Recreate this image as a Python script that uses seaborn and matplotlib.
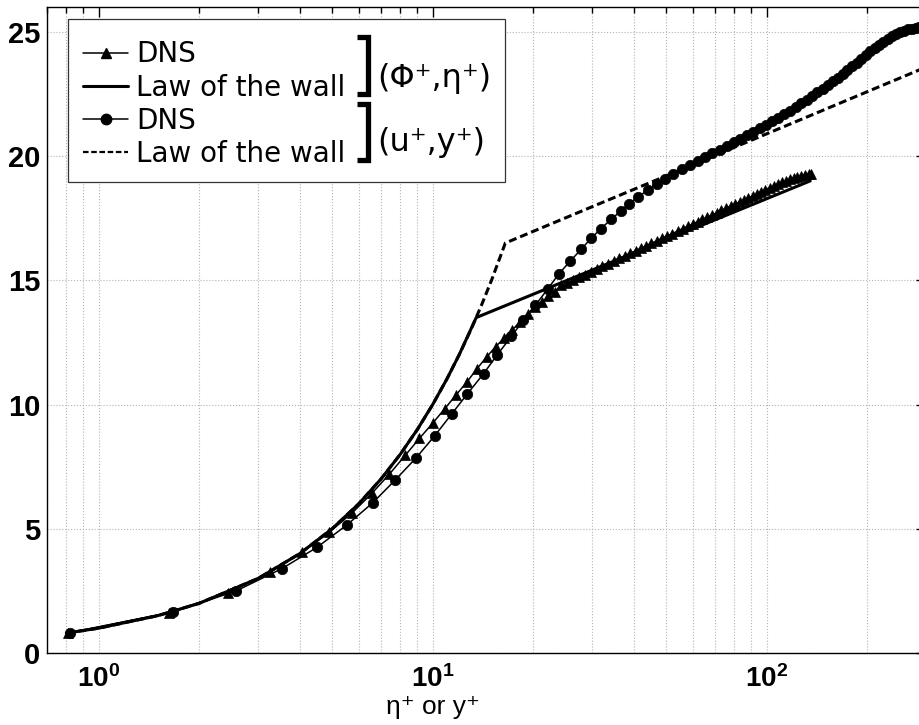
import numpy as np
import pandas as pd
import matplotlib
matplotlib.use("Agg")
import matplotlib.pyplot as plt
import seaborn as sns
from matplotlib.ticker import LogLocator, FuncFormatter, NullFormatter
from matplotlib.lines import Line2D
from matplotlib.patches import Rectangle

# ---------------- data ----------------
eta_dns = [0.81, 1.62, 2.43, 3.25, 4.07, 4.90, 5.73, 6.57, 7.42, 8.27,
           9.13, 10.0, 10.88, 11.77, 12.67, 13.58, 14.50, 15.43, 16.37, 17.32,
           18.28, 19.25, 20.23, 21.22, 22.22, 23.23, 24.25, 25.3, 26.4, 27.5,
           28.6, 29.8, 31.0, 32.2, 33.5, 34.8, 36.2, 37.6, 39.0, 40.5,
           42.0, 43.6, 45.2, 46.9, 48.6, 50.4, 52.2, 54.1, 56.0, 58.0,
           60.0, 62.1, 64.2, 66.4, 68.6, 70.9, 73.2, 75.6, 78.0, 80.5,
           83.0, 85.6, 88.2, 90.9, 93.6, 96.4, 99.2, 102.1, 105.0, 108.0,
           111.0, 114.1, 117.2, 120.4, 123.6, 126.9, 130.2, 133.6, 135.5]
phi_dns = [0.81, 1.62, 2.42, 3.24, 4.06, 4.86, 5.63, 6.42, 7.20, 7.95,
           8.64, 9.25, 9.84, 10.40, 10.91, 11.45, 11.91, 12.33, 12.67, 13.00,
           13.34, 13.66, 13.93, 14.12, 14.36, 14.54, 14.80, 14.90, 15.01, 15.13,
           15.23, 15.35, 15.46, 15.56, 15.67, 15.77, 15.88, 15.99, 16.09, 16.19,
           16.29, 16.39, 16.49, 16.59, 16.69, 16.79, 16.88, 16.98, 17.08, 17.17,
           17.26, 17.36, 17.45, 17.54, 17.63, 17.72, 17.81, 17.90, 17.99, 18.07,
           18.16, 18.24, 18.32, 18.40, 18.48, 18.57, 18.64, 18.72, 18.80, 18.88,
           18.95, 19.01, 19.07, 19.12, 19.17, 19.21, 19.25, 19.28, 19.29]

yplus_dns = [0.82, 1.67, 2.58, 3.54, 4.50, 5.53, 6.62, 7.72, 8.90, 10.15,
             11.4, 12.7, 14.2, 15.6, 17.2, 18.7, 20.3, 22.1, 23.9, 25.8,
             27.8, 29.8, 31.9, 34.2, 36.6, 38.8, 41.3, 44.0, 46.9, 49.7,
             52.6, 55.9, 59.0, 62.2, 65.4, 68.8, 72.3, 75.9, 79.6, 83.4,
             87.3, 91.3, 95.4, 99.6, 103.9, 108.3, 112.8, 117.4, 122.1, 126.9,
             131.8, 136.8, 141.9, 147.1, 152.4, 157.8, 163.3, 168.9, 174.6, 180.4,
             186.3, 192.3, 198.4, 204.6, 210.9, 217.3, 223.8, 230.4, 237.1, 243.9,
             250.8, 257.8, 264.9, 272.1, 279.4, 286.8, 294.3]
uplus_dns = [0.81, 1.65, 2.50, 3.40, 4.25, 5.15, 6.05, 6.96, 7.84, 8.75,
             9.62, 10.43, 11.24, 12.00, 12.74, 13.40, 14.00, 14.65, 15.27, 15.77,
             16.24, 16.69, 17.08, 17.45, 17.79, 18.08, 18.36, 18.63, 18.88, 19.09,
             19.29, 19.47, 19.64, 19.80, 19.96, 20.11, 20.26, 20.41, 20.55, 20.70,
             20.84, 20.98, 21.12, 21.25, 21.40, 21.53, 21.68, 21.83, 21.98, 22.13,
             22.27, 22.42, 22.56, 22.71, 22.86, 23.01, 23.16, 23.31, 23.46, 23.61,
             23.76, 23.91, 24.06, 24.21, 24.35, 24.48, 24.61, 24.72, 24.83, 24.92,
             24.99, 25.05, 25.10, 25.13, 25.16, 25.18, 25.19]

eta_law = [0.8, 1.0, 1.5, 2.0, 3.0, 4.0, 5.0, 6.0, 7.0, 8.0, 9.0, 10.0,
           11.0, 12.0, 13.5, 20.0, 30.0, 50.0, 80.0, 135.0]
phi_law = [0.8, 1.0, 1.5, 2.0, 3.0, 4.0, 5.0, 6.0, 7.0, 8.0, 9.0, 10.0,
           11.0, 12.0, 13.5, 14.44, 15.41, 16.63, 17.75, 19.0]

yplus_law = [0.8, 1.0, 1.5, 2.0, 3.0, 4.0, 5.0, 6.0, 7.0, 8.0, 9.0, 10.0,
             11.0, 12.0, 13.0, 14.0, 15.0, 16.5, 20.0, 30.0, 50.0, 80.0,
             120.0, 200.0, 300.0]
uplus_law = [0.8, 1.0, 1.5, 2.0, 3.0, 4.0, 5.0, 6.0, 7.0, 8.0, 9.0, 10.0,
             11.0, 12.0, 13.0, 14.0, 15.0, 16.5, 16.97, 17.96, 19.2, 20.35,
             21.34, 22.59, 23.58]

legend_labels = ["DNS", "Law of the wall", "DNS", "Law of the wall"]
group_labels = ["(Φ⁺,η⁺)", "(u⁺,y⁺)"]
x_label = "η⁺ or y⁺"
y_ticks = [0, 5, 10, 15, 20, 25]

# ---------------- style ----------------
sns.set_style("white")
plt.rcParams["font.family"] = ["Liberation Sans", "DejaVu Sans"]
plt.rcParams["text.color"] = "black"
plt.rcParams["axes.labelcolor"] = "black"
plt.rcParams["xtick.color"] = "black"
plt.rcParams["ytick.color"] = "black"
plt.rcParams["mathtext.fontset"] = "custom"
plt.rcParams["mathtext.rm"] = "Liberation Sans"
plt.rcParams["mathtext.bf"] = "Liberation Sans:bold"
plt.rcParams["mathtext.it"] = "Liberation Sans:italic"

W, H = 920, 725
fig = plt.figure(figsize=(W / 100, H / 100), dpi=100)
ax_l, ax_r, ax_t, ax_b = 47, 926, 7, 653
ax = fig.add_axes([ax_l / W, 1 - ax_b / H, (ax_r - ax_l) / W, (ax_b - ax_t) / H])

dash = (0, (2.6, 1.3))
law_lw = 2.2
dns_lw = 1.1
ms = 7.5

df_law_phi = pd.DataFrame({"x": eta_law, "y": phi_law})
df_law_u = pd.DataFrame({"x": yplus_law, "y": uplus_law})
df_dns_phi = pd.DataFrame({"x": eta_dns, "y": phi_dns})
df_dns_u = pd.DataFrame({"x": yplus_dns, "y": uplus_dns})

sns.lineplot(data=df_law_u, x="x", y="y", ax=ax, color="k", lw=law_lw,
             linestyle=dash, sort=False, estimator=None, zorder=2)
sns.lineplot(data=df_law_phi, x="x", y="y", ax=ax, color="k", lw=law_lw,
             sort=False, estimator=None, zorder=2)
sns.lineplot(data=df_dns_u, x="x", y="y", ax=ax, color="k", lw=dns_lw,
             marker="o", markersize=ms, markerfacecolor="k", markeredgecolor="k",
             markeredgewidth=0.5, sort=False, estimator=None, zorder=3)
sns.lineplot(data=df_dns_phi, x="x", y="y", ax=ax, color="k", lw=dns_lw,
             marker="^", markersize=ms, markerfacecolor="k", markeredgecolor="k",
             markeredgewidth=0.5, sort=False, estimator=None, zorder=3)

ax.set_xscale("log")
ax.set_xlim(0.7, 300)
ax.set_ylim(0, 26)

ax.xaxis.set_major_locator(LogLocator(base=10))
ax.xaxis.set_minor_locator(LogLocator(base=10, subs=np.arange(2, 10)))
ax.xaxis.set_major_formatter(
    FuncFormatter(lambda v, p: r"$\mathbf{10^{%d}}$" % int(round(np.log10(v)))))
ax.xaxis.set_minor_formatter(NullFormatter())
ax.set_yticks(y_ticks)
ax.set_yticklabels([str(t) for t in y_ticks])
for lab in ax.get_yticklabels():
    lab.set_fontweight("bold")

ax.tick_params(axis="both", which="both", direction="in", top=True, right=True,
               colors="k", width=1.0)
ax.tick_params(axis="both", which="major", length=7)
ax.tick_params(axis="both", which="minor", length=4)
ax.tick_params(axis="x", which="major", pad=9, labelsize=20)
ax.tick_params(axis="y", which="major", pad=5, labelsize=21)

ax.grid(True, which="major", axis="both", linestyle=":", color="#b4b4b4", lw=0.8)
ax.grid(True, which="minor", axis="x", linestyle=":", color="#b4b4b4", lw=0.8)
ax.set_axisbelow(True)
for s in ax.spines.values():
    s.set_color("k")
    s.set_linewidth(1.0)

ax.set_xlabel(x_label, fontsize=19, color="black",
              family=["Liberation Sans Narrow", "Liberation Sans", "DejaVu Sans"])
ax.set_ylabel("")
ax.xaxis.set_label_coords((433 - ax_l) / (ax_r - ax_l), (ax_b - 695) / (ax_b - ax_t))

# ---------------- legend ----------------
handles = [
    Line2D([], [], color="k", lw=dns_lw, marker="^", ms=ms),
    Line2D([], [], color="k", lw=law_lw),
    Line2D([], [], color="k", lw=dns_lw, marker="o", ms=ms),
    Line2D([], [], color="k", lw=1.6, linestyle=(0, (2.5, 1.2))),
]
box_l, box_t, box_r, box_b = 68, 19, 505, 182
ax.add_patch(Rectangle((box_l / W, 1 - box_b / H), (box_r - box_l) / W,
                       (box_b - box_t) / H, transform=fig.transFigure,
                       facecolor="white", edgecolor="#333333", lw=0.9,
                       zorder=4.5, clip_on=False))
leg = ax.legend(handles, legend_labels, loc="upper left",
                bbox_to_anchor=(box_l / W, 1 - (box_t + 6) / H),
                bbox_transform=fig.transFigure, frameon=False,
                prop={"family": ["DejaVu Sans"], "size": 20},
                handlelength=1.6, handletextpad=0.3, labelspacing=0.19,
                borderpad=0.55, borderaxespad=0, numpoints=1)
leg.set_zorder(5)
for t in leg.get_texts():
    t.set_color("black")

def fx(px):
    return px / W

def fy(py):
    return 1 - py / H

for (t, b) in [(37, 94), (104, 160)]:
    fig.add_artist(Line2D([fx(357), fx(368), fx(368), fx(357)],
                          [fy(t), fy(t), fy(b), fy(b)], color="k", lw=3.8,
                          solid_joinstyle="miter", solid_capstyle="butt",
                          transform=fig.transFigure))

fig.text(fx(377), fy(78), group_labels[0], ha="left", va="center", fontsize=23,
         family=["DejaVu Sans"], color="black")
fig.text(fx(377), fy(143), group_labels[1], ha="left", va="center", fontsize=23,
         family=["DejaVu Sans"], color="black")

fig.savefig("out.png", dpi=100, facecolor="white")
